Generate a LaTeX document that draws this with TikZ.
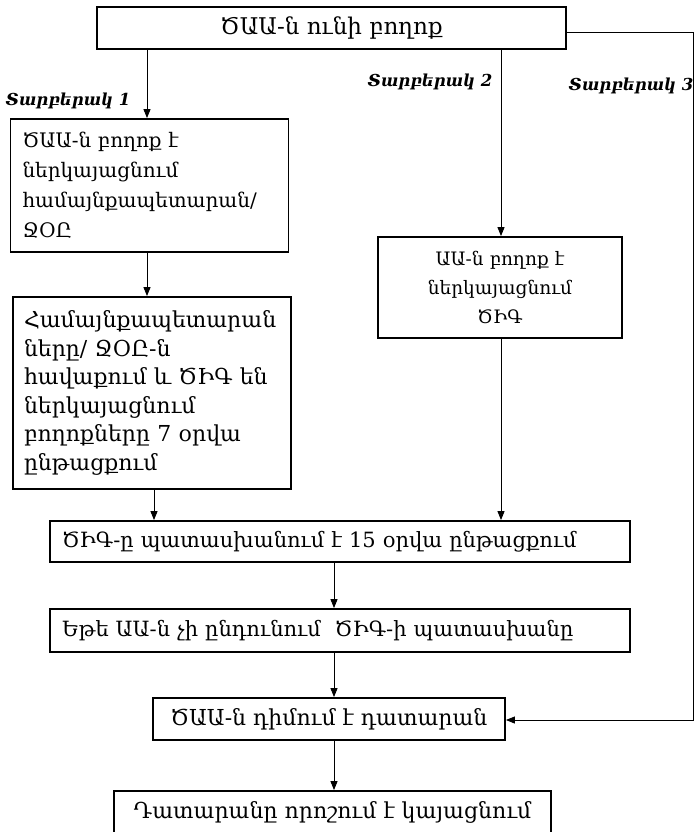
\documentclass[tikz,border=0pt]{standalone}
\usepackage{fontspec}
\setmainfont{DejaVu Serif}
\usetikzlibrary{arrows.meta}
\begin{document}
\begin{tikzpicture}[x=1pt,y=-1pt,
  box/.style={draw,line width=1.8pt,inner sep=0pt},
  fs/.style={font=\fontsize{#1}{29}\selectfont},
  conn/.style={line width=0.9pt,-{Triangle[length=9pt,width=7pt]}},
  lbl/.style={font=\fontsize{16.5}{18}\selectfont\bfseries\itshape,inner sep=0pt}]
\useasboundingbox (0,0) rectangle (697,832);
\fill[white] (0,0) rectangle (697,832);

\node[box,fs=23,minimum width=469pt,minimum height=42pt] (top) at (331.5,28) {ԾԱԱ-ն ունի բողոք};
\node[box,font=\fontsize{20}{30}\selectfont,minimum width=278pt,minimum height=133pt,text width=254pt,align=left] (b1) at (149.5,185.5) {ԾԱԱ-ն բողոք է\\ներկայացնում\\համայնքապետարան/\\ՋՕԸ};
\node[box,font=\fontsize{22}{28.5}\selectfont,minimum width=278pt,minimum height=192pt,text width=256pt,align=left] (b2) at (152,393) {Համայնքապետարան\\ները/ ՋՕԸ-ն\\հավաքում և ԾԻԳ են\\ներկայացնում\\բողոքները 7 օրվա\\ընթացքում};
\node[box,fs=18.5,minimum width=244pt,minimum height=101pt,text width=230pt,align=center] (aa) at (500,287.5) {ԱԱ-ն բողոք է\\ներկայացնում\\ԾԻԳ};
\node[box,fs=21,minimum width=580pt,minimum height=41pt,text width=556pt,align=left] (cig) at (340,541.5) {ԾԻԳ-ը պատասխանում է 15 օրվա ընթացքում};
\node[box,fs=21,minimum width=580pt,minimum height=43pt,text width=556pt,align=left] (ete) at (340,630.5) {Եթե ԱԱ-ն չի ընդունում \ ԾԻԳ-ի պատասխանը};
\node[box,fs=22,minimum width=352pt,minimum height=42pt] (court) at (329,719) {ԾԱԱ-ն դիմում է դատարան};
\node[box,fs=22,minimum width=437pt,minimum height=42pt] (last) at (332.5,812) {Դատարանը որոշում է կայացնում};

\node[lbl] (l1) at (68,101) {Տարբերակ 1};
\node[lbl] (l2) at (430,82) {Տարբերակ 2};
\node[lbl] (l3) at (631,86) {Տարբերակ 3};

\coordinate (x1) at (147,0);
\coordinate (x2) at (501,0);
\coordinate (x3) at (154,0);
\coordinate (x4) at (334,0);
\coordinate (rtop) at (693,32);
\coordinate (rbot) at (693,720);

\draw[conn] (x1 |- top.south) -- (x1 |- b1.north);
\draw[conn] (x2 |- top.south) -- (x2 |- aa.north);
\draw[conn] (x1 |- b1.south) -- (x1 |- b2.north);
\draw[conn] (x3 |- b2.south) -- (x3 |- cig.north);
\draw[conn] (x2 |- aa.south) -- (x2 |- cig.north);
\draw[conn] (x4 |- cig.south) -- (x4 |- ete.north);
\draw[conn] (x4 |- ete.south) -- (x4 |- court.north);
\draw[conn] (x4 |- court.south) -- (x4 |- last.north);
\draw[conn] (rtop -| top.east) -- (rtop) -- (rbot) -- (rbot -| court.east);
\end{tikzpicture}
\end{document}
